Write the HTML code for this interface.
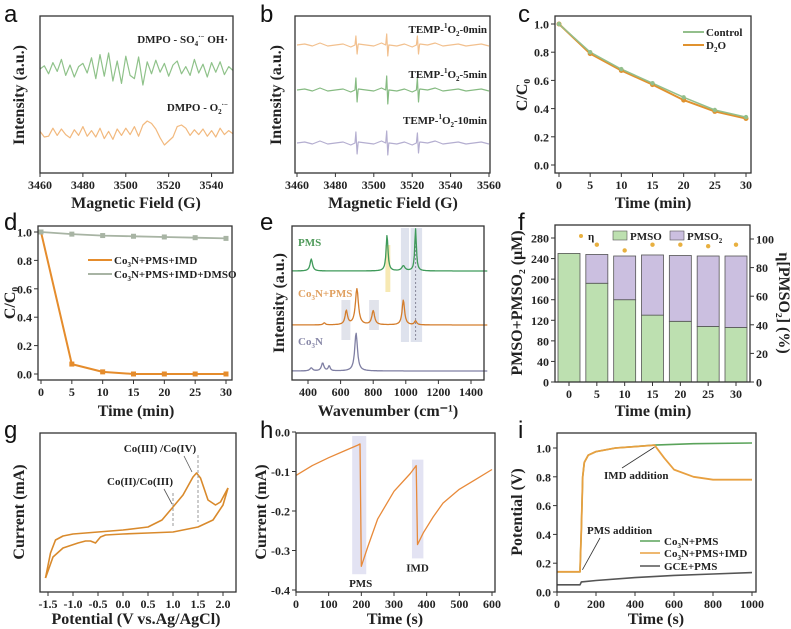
<!DOCTYPE html>
<html><head><meta charset="utf-8"><style>
html,body{margin:0;padding:0;background:#fff}
svg{display:block}
text{font-family:"Liberation Serif",serif;font-weight:bold;fill:#222}
.pl{font-family:"Liberation Sans",sans-serif;font-weight:normal;font-size:24px;fill:#111}
.tk{font-size:12px}
.ti{font-size:16px}
.an{font-size:11px}
</style></head><body>
<svg id="fig" width="791" height="629" viewBox="0 0 791 629" xmlns="http://www.w3.org/2000/svg">
<g>
<text class="pl" x="4" y="22">a</text>
<text class="pl" x="260" y="22">b</text>
<text class="pl" x="518" y="22">c</text>
<text class="pl" x="4" y="230">d</text>
<text class="pl" x="260" y="230">e</text>
<text class="pl" x="518" y="230">f</text>
<text class="pl" x="4" y="438">g</text>
<text class="pl" x="260" y="438">h</text>
<text class="pl" x="518" y="438">i</text>
</g>
<g>
<text class="ti" x="136" y="208" text-anchor="middle">Magnetic Field (G)</text>
<text class="ti" x="393" y="208" text-anchor="middle">Magnetic Field (G)</text>
<text class="ti" x="653" y="208" text-anchor="middle">Time (min)</text>
<text class="ti" x="136" y="416" text-anchor="middle">Time (min)</text>
<text class="ti" x="388" y="416" text-anchor="middle">Wavenumber (cm⁻¹)</text>
<text class="ti" x="653" y="416" text-anchor="middle">Time (min)</text>
<text class="ti" x="136" y="624" text-anchor="middle">Potential (V vs.Ag/AgCl)</text>
<text class="ti" x="395" y="624" text-anchor="middle">Time (s)</text>
<text class="ti" x="656" y="624" text-anchor="middle">Time (s)</text>
<text class="ti" transform="translate(24,95) rotate(-90)" text-anchor="middle">Intensity (a.u.)</text>
<text class="ti" transform="translate(281,95) rotate(-90)" text-anchor="middle">Intensity (a.u.)</text>
<text class="ti" transform="translate(527,95) rotate(-90)" text-anchor="middle">C/C₀</text>
<text class="ti" transform="translate(15,303) rotate(-90)" text-anchor="middle">C/C₀</text>
<text class="ti" transform="translate(284,303) rotate(-90)" text-anchor="middle">Intensity (a.u.)</text>
<text class="ti" transform="translate(522,303) rotate(-90)" text-anchor="middle">PMSO+PMSO₂ (μM)</text>
<text class="ti" transform="translate(779,303) rotate(90)" text-anchor="middle">η[PMSO₂] (%)</text>
<text class="ti" transform="translate(24,512) rotate(-90)" text-anchor="middle">Current (mA)</text>
<text class="ti" transform="translate(266,512) rotate(-90)" text-anchor="middle">Current (mA)</text>
<text class="ti" transform="translate(522,512) rotate(-90)" text-anchor="middle">Potential (V)</text>
</g>
</svg>
<script>
const NS="http://www.w3.org/2000/svg";
const fig=document.getElementById('fig');
function mk(tag,a,p){const e=document.createElementNS(NS,tag);for(const k in a)e.setAttribute(k,a[k]);(p||fig).appendChild(e);return e;}
function lin(d0,d1,r0,r1){return v=>r0+(v-d0)*(r1-r0)/(d1-d0);}
function pts(xs,ys,sx,sy){return xs.map((x,i)=>sx(x).toFixed(1)+','+sy(ys[i]).toFixed(1)).join(' ');}

// ---------- data ----------
const aX0=3460, aStep=2;
const aGreen=[0,4,-6,8,-3,12,-8,5,-10,3,7,-5,14,-12,18,-9,20,-15,10,-18,16,-8,-12,15,-20,9,-6,11,-4,7,-9,5,10,-6,3,-8,12,-5,6,-10,8,-4,9,-7,3,-2];
const aOrange=[2,-5,-4,6,-3,5,-2,-6,4,-3,8,-4,3,-5,6,-7,2,-8,5,-3,6,-2,8,-4,10,15,12,5,-6,-15,-10,-5,8,10,6,-3,4,-2,5,-4,3,-5,6,-2,3,-1];
const bWiggle=[0,1,-1,2,-1,0,1,-2,1,0,-1,2,0,-1,1,-2,1,0,2,-1,0,1,-1,0,1,-1];
const bSpikePos=[3491,3507,3523];
const bAmp0=[9,11,9], bAmp5=[12,14,12], bAmp10=[11,12,10];
const cTime=[0,5,10,15,20,25,30];
const cControl=[1.0,0.80,0.68,0.58,0.48,0.39,0.34];
const cD2O=[1.0,0.79,0.67,0.57,0.46,0.38,0.33];
const dTime=[0,5,10,15,20,25,30];
const dIMD=[1.0,0.07,0.015,0.0,0.0,0.0,0.0];
const dDMSO=[1.0,0.985,0.975,0.97,0.965,0.96,0.955];
const ePMSpk=[[420,12,9],[885,36,7],[985,5,12],[1060,42,6]];
const eCoPMSpk=[[635,14,9],[700,36,11],[800,14,10],[985,25,9],[1060,4,8],[500,2,8]];
const eCoNpk=[[420,3,10],[490,8,9],[530,5,7],[695,38,10]];
const fCats=[0,5,10,15,20,25,30];
const fPMSO=[250,192,160,130,118,108,106];
const fPMSO2=[0,56,85,117,128,137,139];
const fEta=[null,96,92,96,96,95,96];
const gUpV=[-1.55,-1.45,-1.35,-1.2,-1.0,-0.5,0,0.5,0.78,1.0,1.2,1.4,1.47,1.55,1.7,1.85,1.95,2.1];
const gUpI=[14,39,52,56,58,60,62,65,72,85,97,115,119,114,92,87,90,104];
const gDnV=[2.1,2.0,1.8,1.5,1.0,0.5,0,-0.35,-0.45,-0.55,-0.65,-0.75,-0.9,-1.2,-1.4,-1.55];
const gDnI=[104,87,72,65,60,59,58,57,55,49,51,51,49,44,35,14];
const hT=[0,50,100,150,190,196,200,220,250,300,350,368,372,390,420,450,500,550,600];
const hI=[-0.11,-0.085,-0.065,-0.047,-0.033,-0.03,-0.34,-0.29,-0.22,-0.15,-0.105,-0.085,-0.285,-0.255,-0.215,-0.18,-0.145,-0.12,-0.095];
const iT=[0,118,125,132,140,160,200,300,400,500,700,1000];
const iCoPMS=[0.14,0.14,0.45,0.8,0.9,0.95,0.975,1.0,1.01,1.02,1.03,1.035];
const iT2=[0,118,125,132,140,160,200,300,400,500,550,600,700,800,1000];
const iCoIMD=[0.14,0.14,0.45,0.8,0.9,0.95,0.975,1.0,1.01,1.02,0.93,0.85,0.80,0.78,0.78];
const iT3=[0,118,125,200,400,600,800,1000];
const iGCE=[0.05,0.05,0.07,0.08,0.10,0.115,0.125,0.135];
const xtA=[3460,3480,3500,3520,3540], xtB=[3460,3480,3500,3520,3540,3560];
const xt30=[0,5,10,15,20,25,30], ytC=[0,0.2,0.4,0.6,0.8,1.0];
const xtE=[400,600,800,1000,1200,1400];
const ytF=[0,40,80,120,160,200,240,280], ytF2=[0,20,40,60,80,100];
const xtG=[-1.5,-1.0,-0.5,0.0,0.5,1.0,1.5,2.0];
const xtH=[0,100,200,300,400,500,600], ytH=[0,-0.1,-0.2,-0.3,-0.4];
const xtI=[0,200,400,600,800,1000], ytI=[0,0.2,0.4,0.6,0.8,1.0];

// ---------- axes helper ----------
function frame(n,x0,y0,x1,y1){const r=mk('rect',{x:x0,y:y0,width:x1-x0,height:y1-y0,fill:'none',stroke:'#333','stroke-width':1.3});

}
function xticks(n,vals,sx,yb,fmt){vals.forEach(v=>{const t=mk('line',{x1:sx(v),x2:sx(v),y1:yb,y2:yb+4,stroke:'#333'});


const l=mk('text',{x:sx(v),y:yb+16,'text-anchor':'middle',class:'tk'});l.textContent=fmt?fmt(v):v;

});}
function yticks(n,vals,sy,xl,fmt,right){vals.forEach(v=>{const t=mk('line',{x1:xl,x2:right?xl+4:xl-4,y1:sy(v),y2:sy(v),stroke:'#333'});


const l=mk('text',{x:right?xl+6:xl-6,y:sy(v)+4.5,'text-anchor':right?'start':'end',class:'tk'});l.textContent=fmt?fmt(v):v;

});}
function poly(n,p,col,w){const e=mk('polyline',{points:p,fill:'none',stroke:col,'stroke-width':w||1.2,'stroke-linejoin':'round'});

return e;}
function txt(n,x,y,s,cls,col,anchor){const e=mk('text',{x:x,y:y,class:cls||'an','text-anchor':anchor||'start'});if(col)e.setAttribute('style','fill:'+col);e.innerHTML=s;

return e;}
const f1=v=>v.toFixed(1);

// ---------- a ----------
{const sx=lin(3460,3550,40,233);
const xs=aGreen.map((_,i)=>aX0+i*aStep);
poly('a-dmpo-so4-oh-trace',pts(xs,aGreen,sx,v=>69-v*0.8),'#8fc28a');
poly('a-dmpo-o2-trace',pts(xs,aOrange,sx,v=>133-v*0.8),'#f2b97e');
txt('a-label-so4-oh',228,43,'DMPO - SO<tspan font-size="7" dy="3">4</tspan><tspan font-size="7" dy="-7">·−</tspan><tspan dy="4"> OH·</tspan>','an',null,'end');
txt('a-label-o2',228,111,'DMPO - O<tspan font-size="7" dy="3">2</tspan><tspan font-size="7" dy="-7">·−</tspan>','an',null,'end');
frame('a',40,16,233,173);xticks('a',xtA,sx,173);}

// ---------- b ----------
{const sx=lin(3460,3560,297,489);
function trace(base,amps){const p=[];bWiggle.forEach((w,i)=>p.push([3460+i*4,w]));
bSpikePos.forEach((s,k)=>{p.push([s-0.8,0],[s-0.3,amps[k]],[s+0.3,-amps[k]],[s+0.8,0]);});
p.sort((a,b)=>a[0]-b[0]);return pts(p.map(q=>q[0]),p.map(q=>q[1]),sx,v=>base-v);}
poly('b-temp-0min-trace',trace(45,bAmp0),'#f2c08e');
poly('b-temp-5min-trace',trace(90,bAmp5),'#86bb82');
poly('b-temp-10min-trace',trace(143,bAmp10),'#b4aed0');
txt('b-label-0min',487,33,'TEMP-<tspan font-size="7" dy="-5">1</tspan><tspan dy="5">O</tspan><tspan font-size="7" dy="3">2</tspan><tspan dy="-3">-0min</tspan>','an',null,'end');
txt('b-label-5min',487,78,'TEMP-<tspan font-size="7" dy="-5">1</tspan><tspan dy="5">O</tspan><tspan font-size="7" dy="3">2</tspan><tspan dy="-3">-5min</tspan>','an',null,'end');
txt('b-label-10min',487,124,'TEMP-<tspan font-size="7" dy="-5">1</tspan><tspan dy="5">O</tspan><tspan font-size="7" dy="3">2</tspan><tspan dy="-3">-10min</tspan>','an',null,'end');
frame('b',295,16,490,173);xticks('b',xtB,sx,173);}

// ---------- c ----------
{const sx=lin(0,30,559,746), sy=lin(0,1,165,24);
poly('c-d2o-line',pts(cTime,cD2O,sx,sy),'#e0922f',2);
poly('c-control-line',pts(cTime,cControl,sx,sy),'#93bf8c',1.5);
cTime.forEach((t,i)=>{const m=mk('circle',{cx:sx(t),cy:sy(cD2O[i]),r:2.5,fill:'#e0922f'});


const m2=mk('circle',{cx:sx(t),cy:sy(cControl[i]),r:2.2,fill:'#93bf8c'});

});
poly('c-legend-control-swatch','683,32 704,32','#93bf8c',2);poly('c-legend-d2o-swatch','683,45 704,45','#e0922f',2);
txt('c-legend-control',706,36,'Control');txt('c-legend-d2o',706,49,'D<tspan font-size="7" dy="3">2</tspan><tspan dy="-3">O</tspan>');
frame('c',555,16,751,173);xticks('c',xt30,sx,173);yticks('c',ytC,sy,555,f1);}

// ---------- d ----------
{const sx=lin(0,30,41,226), sy=lin(0,1,374,232);
poly('d-dmso-line',pts(dTime,dDMSO,sx,sy),'#a8b4a4',1.8);
poly('d-imd-line',pts(dTime,dIMD,sx,sy),'#e58c2c',2);
dTime.forEach((t,i)=>{const m=mk('rect',{x:sx(t)-2.5,y:sy(dIMD[i])-2.5,width:5,height:5,fill:'#e58c2c'});


const m2=mk('rect',{x:sx(t)-2.5,y:sy(dDMSO[i])-2.5,width:5,height:5,fill:'#a8b4a4'});

});
poly('d-legend-imd-swatch','88,260 112,260','#e58c2c',2);poly('d-legend-dmso-swatch','88,274 112,274','#a8b4a4',2);
txt('d-legend-imd',114,264,'Co<tspan font-size="7" dy="3">3</tspan><tspan dy="-3">N+PMS+IMD</tspan>');
txt('d-legend-dmso',114,278,'Co<tspan font-size="7" dy="3">3</tspan><tspan dy="-3">N+PMS+IMD+DMSO</tspan>');
frame('d',38,226,232,380);xticks('d',xt30,sx,380);yticks('d',ytC,sy,38,f1);}

// ---------- e ----------
{const sx=lin(400,1400,308,471);
[[875,905,245,292,'#f5e3a0'],[970,1020,228,342,'#d6dbe8'],[1030,1100,228,342,'#d6dbe8'],[605,660,300,340,'#d9dce6'],[775,835,300,330,'#d9dce6']].forEach(b=>{
const r=mk('rect',{x:sx(b[0]),y:b[2],width:sx(b[1])-sx(b[0]),height:b[3]-b[2],fill:b[4],opacity:0.8});

});
const dl=mk('line',{x1:sx(1060),x2:sx(1060),y1:230,y2:340,stroke:'#889','stroke-dasharray':'2,2'});


function spec(base,pk){const xs=[],ys=[];for(let w=300;w<=1500;w+=4){let s=0;pk.forEach(p=>{s+=p[1]/(1+Math.pow((w-p[0])/p[2],2));});xs.push(w);ys.push(base-s);}return pts(xs,ys,sx,v=>v);}
poly('e-pms-spectrum',spec(271,ePMSpk),'#3f9a5a',1.3);
poly('e-co3n-pms-spectrum',spec(325,eCoPMSpk),'#d47d2c',1.3);
poly('e-co3n-spectrum',spec(371,eCoNpk),'#7f7fa3',1.3);
txt('e-label-pms',298,246,'PMS','an','#4f9a5a');
txt('e-label-co3n-pms',298,297,'Co<tspan font-size="7" dy="3">3</tspan><tspan dy="-3">N+PMS</tspan>','an','#e0a060');
txt('e-label-co3n',298,345,'Co<tspan font-size="7" dy="3">3</tspan><tspan dy="-3">N</tspan>','an','#8888a8');
frame('e',292,226,484,380);xticks('e',xtE,sx,380);}

// ---------- f ----------
{const sx=lin(0,30,569,736), sy=lin(0,280,382,238), sy2=lin(0,100,382,239);
fCats.forEach((c,i)=>{const b=mk('rect',{x:sx(c)-11,y:sy(fPMSO[i]),width:22,height:sy(0)-sy(fPMSO[i]),fill:'#bde0b0',stroke:'#555','stroke-width':0.8});


if(fPMSO2[i]>0){const b2=mk('rect',{x:sx(c)-11,y:sy(fPMSO[i]+fPMSO2[i]),width:22,height:sy(fPMSO[i])-sy(fPMSO[i]+fPMSO2[i]),fill:'#cbbfe0',stroke:'#555','stroke-width':0.8});

}
if(fEta[i]!=null){const e=mk('circle',{cx:sx(c),cy:sy2(fEta[i]),r:2.2,fill:'#e8b040'});

}});
const l1=mk('circle',{cx:581,cy:236,r:2,fill:'#e8b040'});


txt('f-legend-eta',588,240,'η');
const l2=mk('rect',{x:613,y:231,width:14,height:9,fill:'#bde0b0',stroke:'#555','stroke-width':0.6});


txt('f-legend-pmso',630,240,'PMSO');
const l3=mk('rect',{x:670,y:231,width:14,height:9,fill:'#cbbfe0',stroke:'#555','stroke-width':0.6});


txt('f-legend-pmso2',687,240,'PMSO<tspan font-size="7" dy="3">2</tspan>');
frame('f',555,225,750,382);xticks('f',fCats,sx,382);yticks('f',ytF,sy,555);yticks('f-right',ytF2,sy2,750,null,true);}

// ---------- g ----------
{const sx=lin(-1.5,2.0,48,223), sy=v=>592-v;
poly('g-cv-forward',pts(gUpV,gUpI,sx,sy),'#d98a2c',1.6);
poly('g-cv-reverse',pts(gDnV,gDnI,sx,sy),'#d98a2c',1.6);
const d1=mk('line',{x1:sx(1.5),x2:sx(1.5),y1:455,y2:522,stroke:'#999','stroke-dasharray':'3,2'});


const d2=mk('line',{x1:sx(1.0),x2:sx(1.0),y1:493,y2:528,stroke:'#999','stroke-dasharray':'3,2'});


txt('g-label-co3-co4',160,452,'Co(III) /Co(IV)','an',null,'middle');
txt('g-label-co2-co3',140,485,'Co(II)/Co(III)','an',null,'middle');
poly('g-leader-1','184,456 192,472','#555',0.8);poly('g-leader-2','164,489 172,504','#555',0.8);
frame('g',40,433,236,592);xticks('g',xtG,sx,592,f1);}

// ---------- h ----------
{const sx=lin(0,600,296,492), sy=lin(0,-0.4,432,590);
[[172,215,-0.01,-0.36],[355,390,-0.07,-0.32]].forEach(b=>{const r=mk('rect',{x:sx(b[0]),y:sy(b[2]),width:sx(b[1])-sx(b[0]),height:sy(b[3])-sy(b[2]),fill:'#dcdcf0',opacity:0.8});

});
poly('h-current-trace',pts(hT,hI,sx,sy),'#e88a3a',1.3);
txt('h-label-pms',sx(198),sy(-0.36)+13,'PMS','an',null,'middle');
txt('h-label-imd',sx(372),sy(-0.32)+13,'IMD','an',null,'middle');
frame('h',296,433,495,592);xticks('h',xtH,sx,592);yticks('h',ytH,sy,296,f1);}

// ---------- i ----------
{const sx=lin(0,1000,557,752), sy=lin(0,1,592,448);
poly('i-gce-pms-line',pts(iT3,iGCE,sx,sy),'#555',1.6);
poly('i-co3n-pms-line',pts(iT,iCoPMS,sx,sy),'#5aa35a',1.6);
poly('i-co3n-pms-imd-line',pts(iT2,iCoIMD,sx,sy),'#e8a040',1.8);
txt('i-label-imd-addition',604,479,'IMD addition');
poly('i-arrow-imd','622,468 '+sx(500)+','+(sy(1.02)+2),'#333',0.8);
txt('i-label-pms-addition',587,534,'PMS addition');
poly('i-arrow-pms','600,538 '+(sx(120)+2)+','+(sy(0.14)-2),'#333',0.8);
poly('i-legend-co3n-pms-swatch','640,541 660,541','#5aa35a',1.6);
poly('i-legend-imd-swatch','640,553 660,553','#e8a040',1.6);
poly('i-legend-gce-swatch','640,566 660,566','#555',1.6);
txt('i-legend-co3n-pms',664,545,'Co<tspan font-size="7" dy="3">3</tspan><tspan dy="-3">N+PMS</tspan>');
txt('i-legend-co3n-pms-imd',664,557,'Co<tspan font-size="7" dy="3">3</tspan><tspan dy="-3">N+PMS+IMD</tspan>');
txt('i-legend-gce-pms',664,570,'GCE+PMS');
frame('i',557,433,756,592);xticks('i',xtI,sx,592);yticks('i',ytI,sy,557,f1);}
</script>
</body></html>
